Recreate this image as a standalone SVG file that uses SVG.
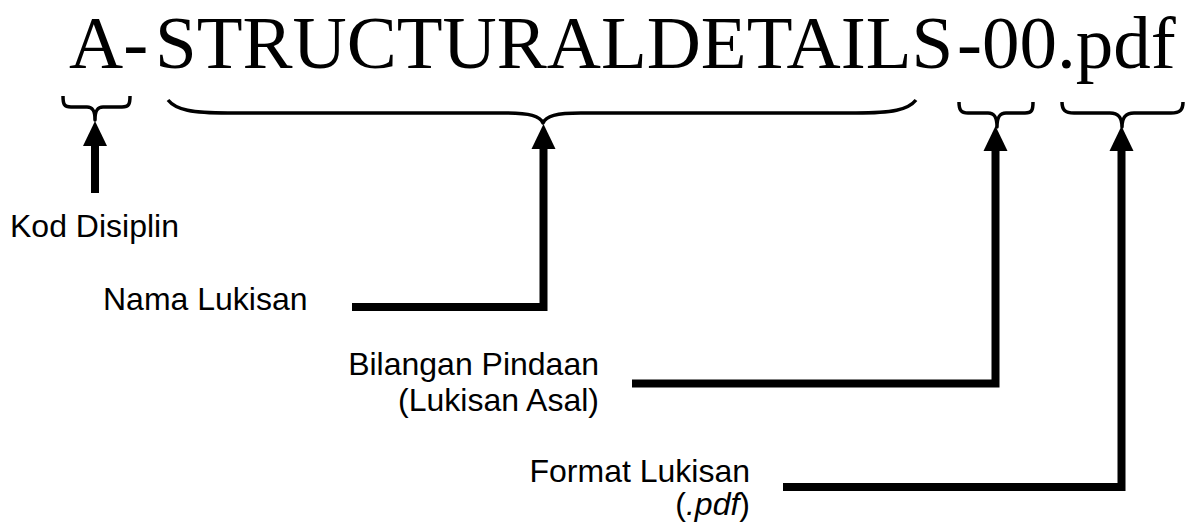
<svg xmlns="http://www.w3.org/2000/svg" width="1193" height="526" viewBox="0 0 1193 526">
  <style>
    .title { font-family: "Liberation Serif", "Times New Roman", serif; font-size: 75px; fill: #000; }
    .label { font-family: "Liberation Sans", Arial, sans-serif; font-size: 32px; fill: #000; }
    .brace { fill: none; stroke: #000; stroke-width: 3.5; stroke-linecap: butt; stroke-linejoin: round; }
    .conn { fill: none; stroke: #000; stroke-width: 8; stroke-linejoin: miter; stroke-linecap: butt; }
  </style>
  <defs>
    <marker id="arrow" markerUnits="userSpaceOnUse" markerWidth="26" markerHeight="26" refX="0" refY="12" orient="auto" viewBox="0 0 26 24" overflow="visible">
      <path d="M0,0 L25,12 L0,24 Z" fill="#000"/>
    </marker>
  </defs>

  <g id="title">
    <text class="title" x="69" y="67.5">A-</text>
    <text class="title" x="155" y="67.5">STRUCTURALDETAILS</text>
    <text class="title" x="957" y="67.5">-00.pdf</text>
  </g>

  <g id="braces">
    <path id="brace-disiplin" class="brace" d="M63,96 C63,104 64,107 71,107 L87,107 C93,107 95,111 95,120 C95,111 97,107 103,107 L122,107 C129,107 130,104 130,96"/>
    <path id="brace-nama" class="brace" d="M168,100 C176,110 192,113 228,113 L505,113 C530,113 540,116 543,123 C546,116 556,113 581,113 L856,113 C892,113 908,110 916,100"/>
    <path id="brace-pindaan" class="brace" d="M959,102 C959,110 961,113 968,113 L988,113 C995,113 997,118 997,127 C997,118 999,113 1006,113 L1025,113 C1032,113 1033,110 1033,102"/>
    <path id="brace-format" class="brace" d="M1062,102 C1062,110 1065,113 1074,113 L1110,113 C1119,113 1122,118 1122,127 C1122,118 1125,113 1134,113 L1171,113 C1180,113 1183,110 1183,102"/>
  </g>

  <g id="node-kod-disiplin">
    <text class="label" x="10" y="237">Kod Disiplin</text>
  </g>
  <g id="node-nama-lukisan">
    <text class="label" x="103" y="310">Nama Lukisan</text>
  </g>
  <g id="node-bilangan-pindaan">
    <text class="label" x="599" y="375" text-anchor="end">Bilangan Pindaan</text>
    <text class="label" x="599" y="411" text-anchor="end">(Lukisan Asal)</text>
  </g>
  <g id="node-format-lukisan">
    <text class="label" x="750" y="482" text-anchor="end">Format Lukisan</text>
    <text class="label" x="750" y="515" text-anchor="end">(<tspan font-style="italic">.pdf</tspan>)</text>
  </g>

  <g id="connectors">
    <path class="conn" d="M95,193 V146" marker-end="url(#arrow)"/>
    <path class="conn" d="M352,307 H543.5 V149" marker-end="url(#arrow)"/>
    <path class="conn" d="M632,383.5 H995.5 V151" marker-end="url(#arrow)"/>
    <path class="conn" d="M783,487 H1121.5 V151" marker-end="url(#arrow)"/>
  </g>
</svg>
